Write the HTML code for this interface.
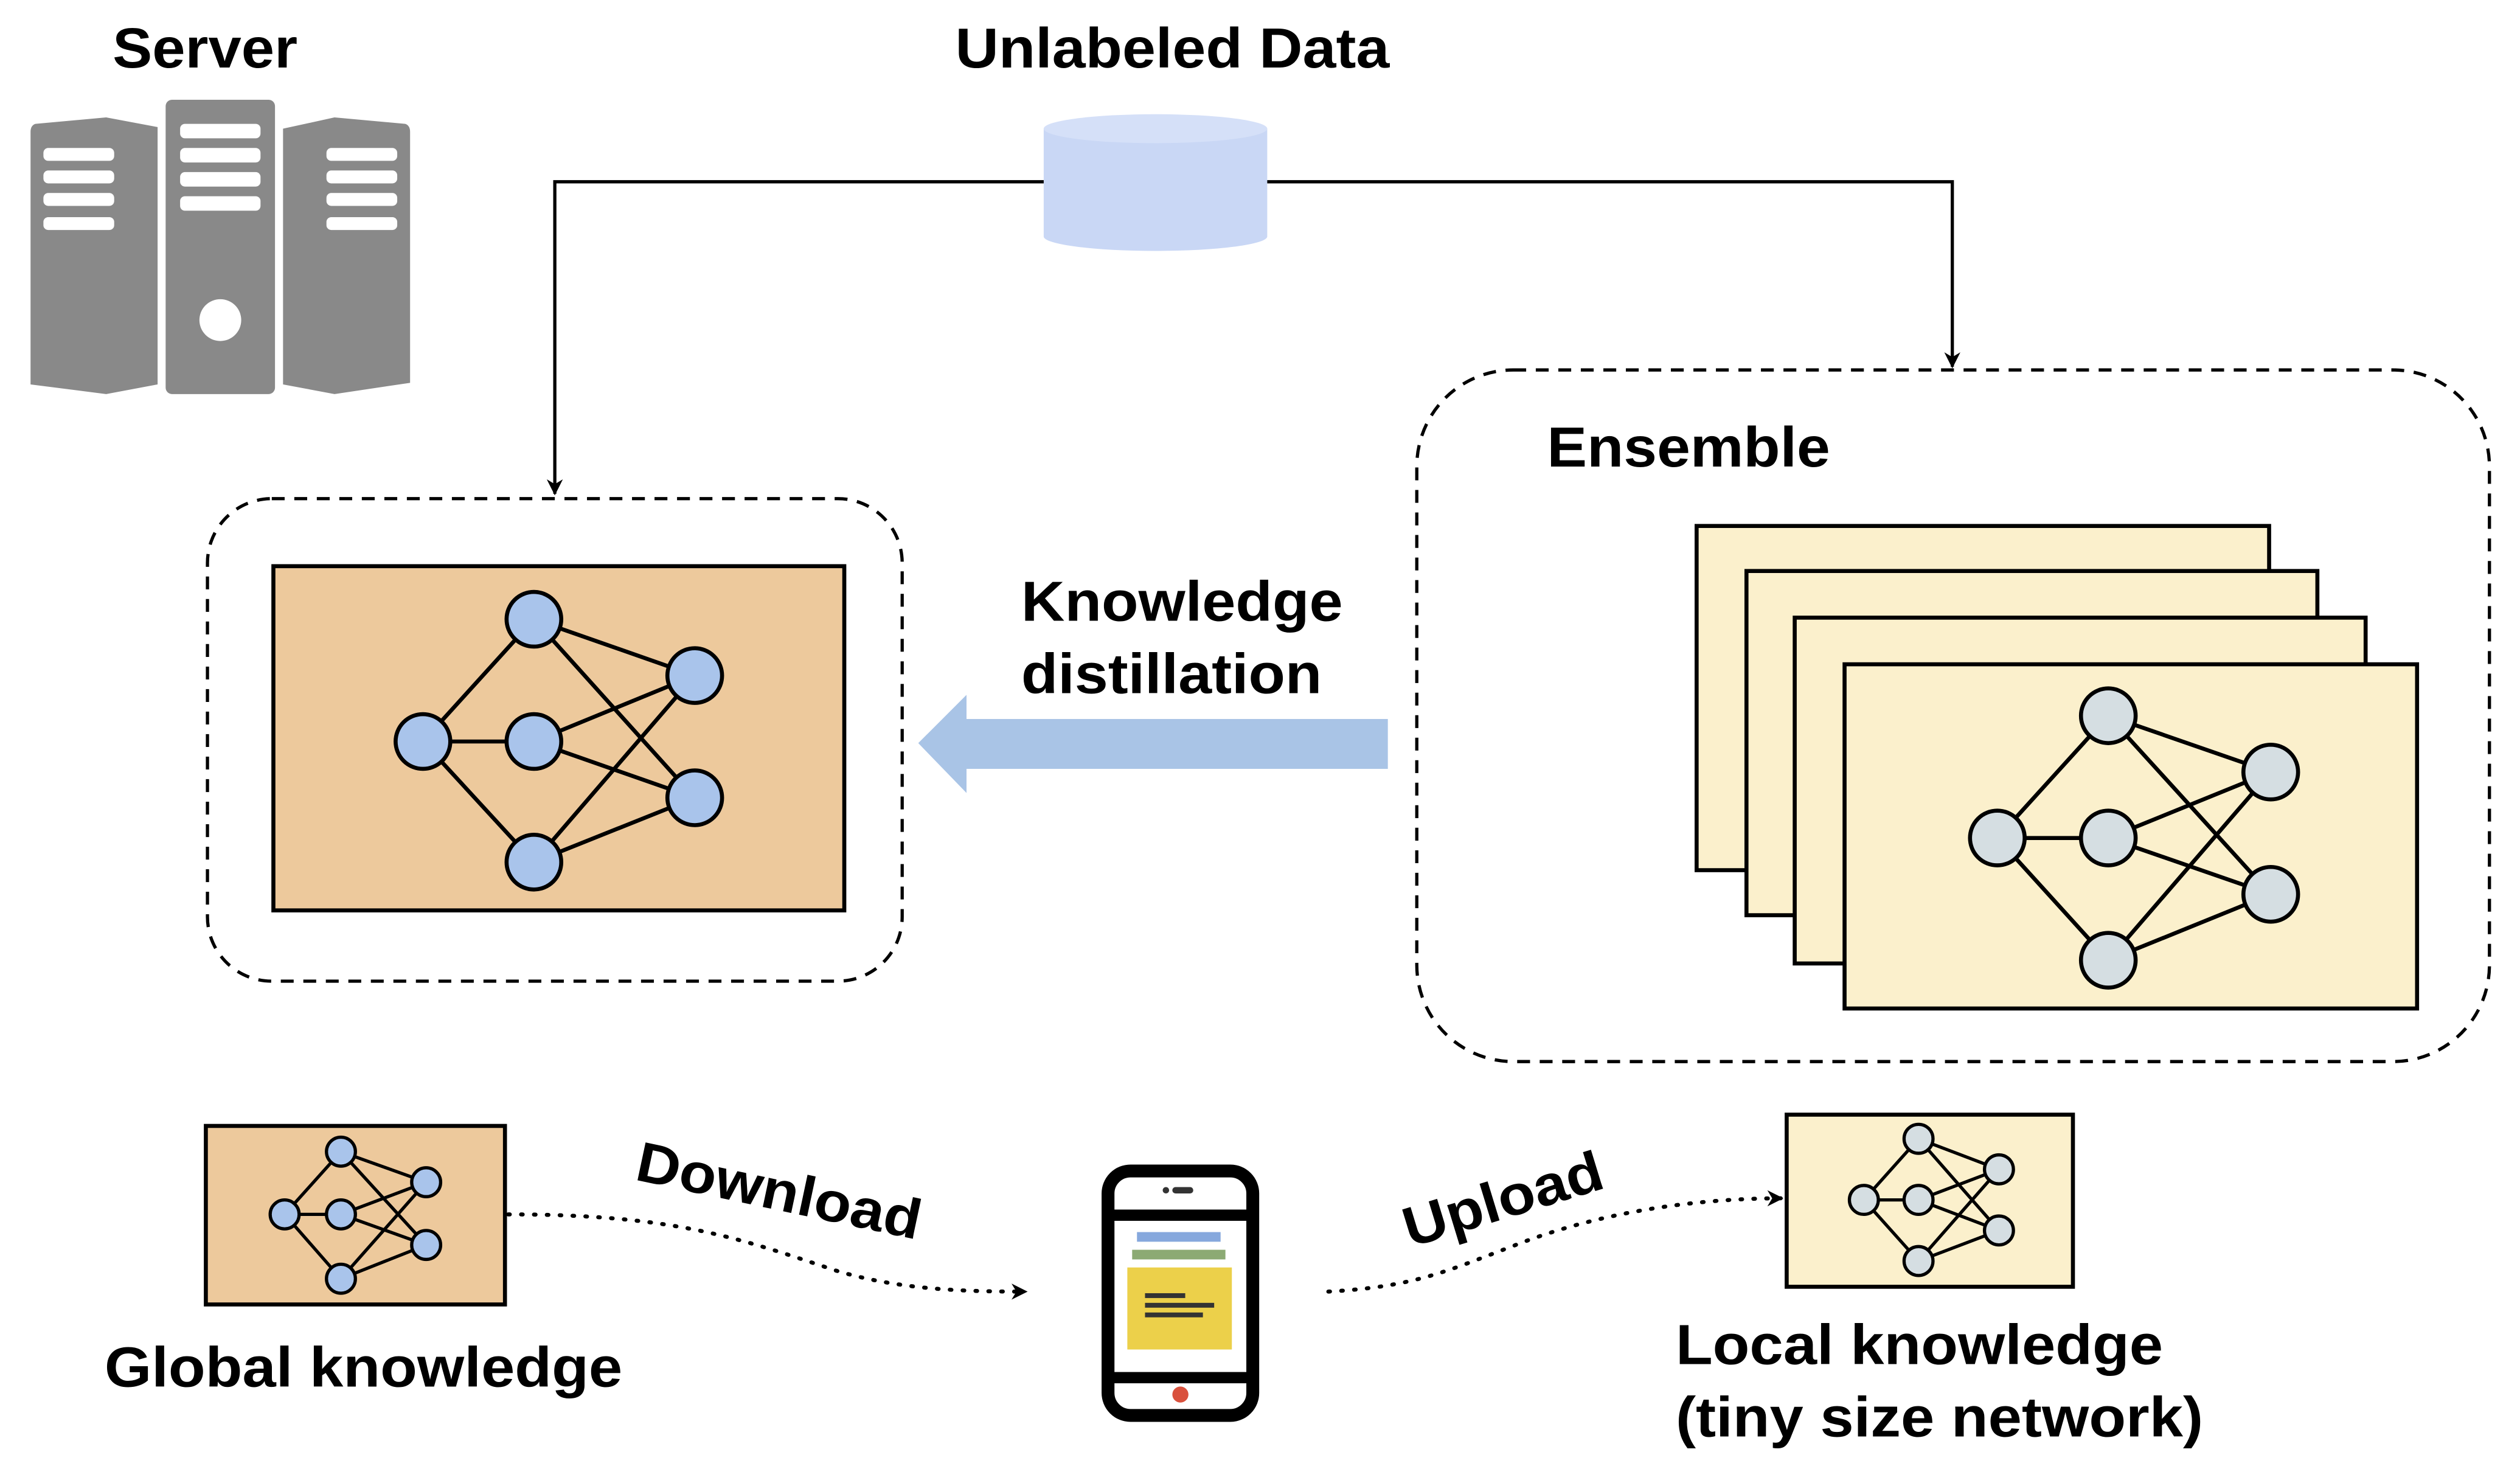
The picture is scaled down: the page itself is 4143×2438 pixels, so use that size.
<!DOCTYPE html>
<html><head><meta charset="utf-8"><style>html,body{margin:0;padding:0;background:#fff}svg{display:block}</style></head>
<body>
<svg width="4143" height="2438" viewBox="0 0 1567 922" preserveAspectRatio="none" xmlns="http://www.w3.org/2000/svg" font-family="Liberation Sans, sans-serif" font-weight="bold">
<defs>
<marker id="a" markerWidth="10" markerHeight="10" refX="9" refY="5" orient="auto" markerUnits="userSpaceOnUse"><path d="M0,0 L10,5 L0,10 L3,5 Z" fill="#000"/></marker>
</defs>
<!-- server -->
<g fill="#898989">
<rect x="103" y="62" width="68" height="183" rx="4"/>
<path d="M176,80 L208,73 L252,77 Q255,78 255,82 L255,238 L208,245 L176,239 Z"/>
<path d="M19,82 Q19,78 22,77 L66,73 L98,79 L98,239 L66,245 L19,239 Z"/>
</g>
<g fill="#fff">
<rect x="27" y="92" width="44" height="8" rx="3"/><rect x="27" y="106" width="44" height="8" rx="3"/><rect x="27" y="120" width="44" height="8" rx="3"/><rect x="27" y="135" width="44" height="8" rx="3"/>
<rect x="112" y="77" width="50" height="9" rx="3"/><rect x="112" y="92" width="50" height="9" rx="3"/><rect x="112" y="107" width="50" height="9" rx="3"/><rect x="112" y="122" width="50" height="9" rx="3"/>
<rect x="203" y="92" width="44" height="8" rx="3"/><rect x="203" y="106" width="44" height="8" rx="3"/><rect x="203" y="120" width="44" height="8" rx="3"/><rect x="203" y="135" width="44" height="8" rx="3"/>
<circle cx="137" cy="199" r="13"/>
</g>
<text x="70" y="42" font-size="35" textLength="115" lengthAdjust="spacingAndGlyphs">Server</text>
<text x="594" y="42" font-size="35" textLength="270" lengthAdjust="spacingAndGlyphs">Unlabeled Data</text>
<!-- cylinder -->
<path d="M649,80 L649,147 A69.5,9 0 0 0 788,147 L788,80 Z" fill="#C9D7F5"/>
<ellipse cx="718.5" cy="80" rx="69.5" ry="9" fill="#D5E0F8"/>
<!-- connectors -->
<path d="M649,113 L345,113 L345,307" fill="none" stroke="#000" stroke-width="2" marker-end="url(#a)"/>
<path d="M788,113 L1214,113 L1214,228" fill="none" stroke="#000" stroke-width="2" marker-end="url(#a)"/>
<!-- dashed boxes -->
<rect x="129" y="310" width="432" height="300" rx="40" fill="none" stroke="#000" stroke-width="2" stroke-dasharray="8,6"/>
<rect x="881" y="230" width="667" height="430" rx="60" fill="none" stroke="#000" stroke-width="2" stroke-dasharray="8,6"/>
<!-- left net -->
<rect x="170" y="352" width="355" height="214" fill="#EDC99C" stroke="#000" stroke-width="2.5"/>
<g stroke="#000" stroke-width="2.5">
<path d="M263,461 L332,385 M263,461 L332,461 M263,461 L332,536 M332,385 L432,420 M332,385 L432,496 M332,461 L432,420 M332,461 L432,496 M332,536 L432,420 M332,536 L432,496"/>
<g fill="#A9C4EB"><circle cx="263" cy="461" r="17"/><circle cx="332" cy="385" r="17"/><circle cx="332" cy="461" r="17"/><circle cx="332" cy="536" r="17"/><circle cx="432" cy="420" r="17"/><circle cx="432" cy="496" r="17"/></g>
</g>
<!-- ensemble -->
<text x="962" y="290" font-size="35" textLength="176" lengthAdjust="spacingAndGlyphs">Ensemble</text>
<g fill="#FBF0CC" stroke="#000" stroke-width="2.5">
<rect x="1055" y="327" width="356" height="214"/><rect x="1086" y="355" width="355" height="214"/><rect x="1116" y="384" width="355" height="215"/><rect x="1147" y="413" width="356" height="214"/>
</g>
<g stroke="#000" stroke-width="2.5">
<path d="M1242,521 L1311,445 M1242,521 L1311,521 M1242,521 L1311,597 M1311,445 L1412,480 M1311,445 L1412,556 M1311,521 L1412,480 M1311,521 L1412,556 M1311,597 L1412,480 M1311,597 L1412,556"/>
<g fill="#D5DEE2"><circle cx="1242" cy="521" r="17"/><circle cx="1311" cy="445" r="17"/><circle cx="1311" cy="521" r="17"/><circle cx="1311" cy="597" r="17"/><circle cx="1412" cy="480" r="17"/><circle cx="1412" cy="556" r="17"/></g>
</g>
<!-- KD arrow -->
<path d="M863,447 L601,447 L601,432 L571,462 L601,493 L601,478 L863,478 Z" fill="#A9C4E6"/>
<text x="635" y="386" font-size="35" textLength="200" lengthAdjust="spacingAndGlyphs">Knowledge</text>
<text x="635" y="431" font-size="35" textLength="187" lengthAdjust="spacingAndGlyphs">distillation</text>
<!-- global small -->
<rect x="128" y="700" width="186" height="111" fill="#EDC99C" stroke="#000" stroke-width="2.5"/>
<g stroke="#000" stroke-width="2">
<path d="M177,755 L212,716 M177,755 L212,755 M177,755 L212,795 M212,716 L265,735 M212,716 L265,774 M212,755 L265,735 M212,755 L265,774 M212,795 L265,735 M212,795 L265,774"/>
<g fill="#A9C4EB"><circle cx="177" cy="755" r="9"/><circle cx="212" cy="716" r="9"/><circle cx="212" cy="755" r="9"/><circle cx="212" cy="795" r="9"/><circle cx="265" cy="735" r="9"/><circle cx="265" cy="774" r="9"/></g>
</g>
<text x="65" y="862" font-size="35" textLength="322" lengthAdjust="spacingAndGlyphs">Global knowledge</text>
<!-- local small -->
<rect x="1111" y="693" width="178" height="107" fill="#FBF0CC" stroke="#000" stroke-width="2.5"/>
<g stroke="#000" stroke-width="2">
<path d="M1159,746 L1193,708 M1159,746 L1193,746 M1159,746 L1193,784 M1193,708 L1243,727 M1193,708 L1243,765 M1193,746 L1243,727 M1193,746 L1243,765 M1193,784 L1243,727 M1193,784 L1243,765"/>
<g fill="#D5DEE2"><circle cx="1159" cy="746" r="9"/><circle cx="1193" cy="708" r="9"/><circle cx="1193" cy="746" r="9"/><circle cx="1193" cy="784" r="9"/><circle cx="1243" cy="727" r="9"/><circle cx="1243" cy="765" r="9"/></g>
</g>
<text x="1042" y="848" font-size="35" textLength="303" lengthAdjust="spacingAndGlyphs">Local knowledge</text>
<text x="1042" y="893" font-size="35" textLength="328" lengthAdjust="spacingAndGlyphs">(tiny size network)</text>
<!-- dotted -->
<path d="M316,755 C420,755 460,770 520,790 C560,802 600,803 638,803" fill="none" stroke="#000" stroke-width="2.5" stroke-dasharray="1,7" stroke-linecap="round" marker-end="url(#a)"/>
<path d="M826,803 C880,800 900,790 940,775 C990,755 1050,745 1108,745" fill="none" stroke="#000" stroke-width="2.5" stroke-dasharray="1,7" stroke-linecap="round" marker-end="url(#a)"/>
<text x="-90" y="0" font-size="35" textLength="180" lengthAdjust="spacingAndGlyphs" transform="translate(482,752) rotate(12)">Download</text>
<text x="-64" y="0" font-size="35" textLength="128" lengthAdjust="spacingAndGlyphs" transform="translate(938,757) rotate(-17)">Upload</text>
<!-- phone -->
<rect x="689" y="728" width="90" height="152" rx="14" fill="#fff" stroke="#000" stroke-width="8"/>
<rect x="689" y="752" width="90" height="7" fill="#000"/>
<rect x="689" y="853" width="90" height="7" fill="#000"/>
<rect x="729" y="738" width="13" height="4" rx="2" fill="#333"/><circle cx="725" cy="740" r="2" fill="#333"/>
<rect x="707" y="766" width="52" height="6" fill="#86A8DD"/>
<rect x="704" y="777" width="58" height="6" fill="#8CAA74"/>
<rect x="701" y="788" width="65" height="51" fill="#ECD04A"/>
<rect x="712" y="804" width="25" height="3" fill="#333"/><rect x="712" y="810" width="43" height="3" fill="#333"/><rect x="712" y="816" width="36" height="3" fill="#333"/>
<circle cx="734" cy="867" r="5" fill="#D9513D"/>
</svg>
</body></html>
